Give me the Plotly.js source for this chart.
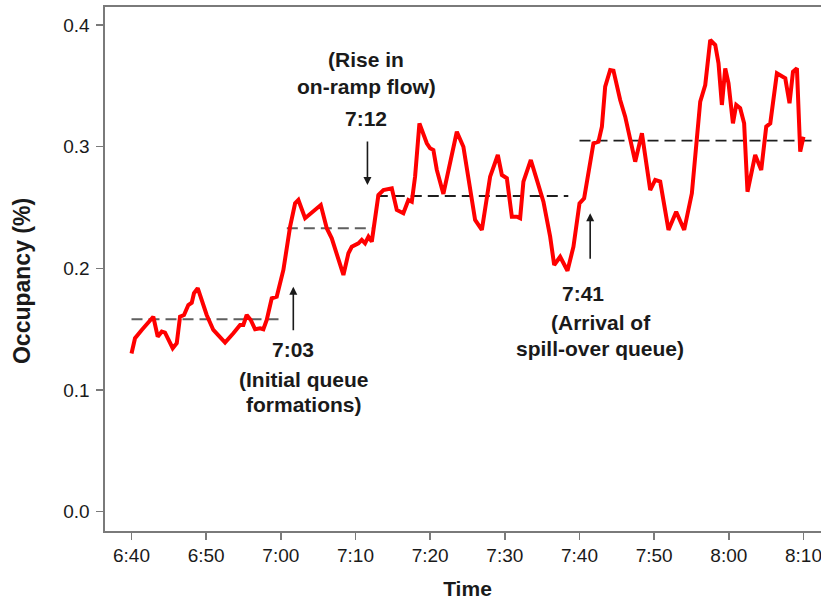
<!DOCTYPE html>
<html>
<head>
<meta charset="utf-8">
<script src="https://cdn.plot.ly/plotly-3.0.1.min.js"></script>
<style>html,body{margin:0;padding:0;overflow:hidden;background:#fff;}</style>
</head>
<body>
<div id="chart"></div>
<script>
// minutes after 6:40
const minutes = [0,0.47,1.37,2.25,2.92,3.51,4.05,4.49,5.52,6.06,6.50,7.03,7.61,8.07,8.37,8.87,9.41,10.07,10.96,11.63,12.53,13.64,14.54,14.98,15.43,15.97,16.55,17.22,17.66,18.11,18.78,19.45,20.34,21.24,21.91,22.35,23.25,25.35,26.15,26.82,28.38,29.05,29.50,30.39,30.84,31.28,31.73,32.18,32.62,33.07,33.74,34.86,35.53,36.41,37.08,37.54,37.98,38.56,39.55,39.99,40.43,40.89,41.77,42.67,43.57,44.45,44.91,46.02,46.92,48.03,49.06,49.60,50.27,50.94,51.61,52.05,52.49,53.48,54.29,55.17,56.07,56.61,57.41,58.39,59.19,60.00,60.62,61.20,61.87,62.54,63.00,63.44,64.11,64.55,65.45,66.12,67.46,68.36,69.47,70.14,70.81,71.92,72.95,74.02,75.05,76.17,76.84,77.51,78.18,78.62,79.07,79.52,79.96,80.55,80.99,81.52,82.05,82.50,83.53,84.34,85.01,85.55,86.44,87.56,88.13,88.59,89.12,89.56,90.00];
const occupancy = [0.130,0.1425,0.1493,0.1561,0.1602,0.1438,0.1479,0.1471,0.1343,0.1384,0.1602,0.1616,0.1698,0.1717,0.1795,0.1836,0.1726,0.1616,0.1493,0.1452,0.1389,0.1466,0.1534,0.1534,0.1616,0.1575,0.1499,0.1507,0.1499,0.1575,0.1753,0.1767,0.1986,0.2342,0.2534,0.2561,0.2411,0.2520,0.2329,0.2246,0.1945,0.2123,0.2177,0.2205,0.2233,0.2205,0.2260,0.2219,0.2424,0.2602,0.2643,0.2657,0.2479,0.2452,0.2561,0.2547,0.2753,0.3191,0.3027,0.2986,0.2972,0.2808,0.2611,0.2873,0.3122,0.2999,0.2808,0.2397,0.2315,0.2753,0.2931,0.2767,0.2740,0.2424,0.2424,0.2411,0.2712,0.2890,0.2726,0.2547,0.2260,0.2027,0.2095,0.1980,0.2177,0.2534,0.2575,0.2808,0.3027,0.3040,0.3164,0.3492,0.3629,0.3624,0.3383,0.3246,0.2876,0.3109,0.2643,0.2726,0.2712,0.2315,0.2465,0.2315,0.2616,0.3369,0.3506,0.3876,0.3835,0.3684,0.3342,0.3643,0.3520,0.3191,0.3342,0.3315,0.3191,0.2629,0.2931,0.2808,0.3164,0.3191,0.3602,0.3561,0.3356,0.3615,0.3643,0.2958,0.3081];

// regime mean levels: [start, end, level]
const segStart = [0, 20.8, 32.85, 60.0];
const segEnd = [20.1, 32.4, 58.5, 91.3];
const segLevel = [0.1581, 0.2329, 0.2594, 0.3049];
const segColor = ['#5f5f5f', '#5f5f5f', '#1e1e1e', '#1e1e1e'];

const tickVals = [0,10,20,30,40,50,60,70,80,90];
const tickText = ['6:40','6:50','7:00','7:10','7:20','7:30','7:40','7:50','8:00','8:10'];
const yTicks = [0.0,0.1,0.2,0.3,0.4];
const yTickText = ['0.0','0.1','0.2','0.3','0.4'];

// arrows: [x (min), head y, pixel offset of tail]
const arrowX = [21.67, 31.6, 61.43];
const arrowY = [0.1849, 0.2685, 0.2452];
const arrowAy = [45, -45, 47];

const noteText = ['(Rise in','on-ramp flow)','7:12','7:03','(Initial queue','formations)','7:41','(Arrival of','spill-over queue)'];
const noteX = [31.46,31.46,31.35,21.57,23.11,23.11,60.53,62.84,62.77];
const noteY = [0.3712,0.3490,0.3233,0.1329,0.1082,0.0877,0.1789,0.1551,0.1337];

const traces = [];
for (let i = 0; i < segLevel.length; i++) {
  traces.push({
    x: [segStart[i], segEnd[i]], y: [segLevel[i], segLevel[i]],
    mode: 'lines', type: 'scatter', hoverinfo: 'skip', showlegend: false,
    line: {color: segColor[i], width: 1.8, dash: '11px,6px'}
  });
}
traces.push({
  x: minutes, y: occupancy, mode: 'lines', type: 'scatter', showlegend: false,
  line: {color: '#ff0000', width: 4, shape: 'linear'}
});

const annotations = [];
for (let i = 0; i < arrowX.length; i++) {
  annotations.push({
    x: arrowX[i], y: arrowY[i], xref: 'x', yref: 'y', text: '',
    showarrow: true, arrowhead: 2, arrowsize: 1, arrowwidth: 1.6,
    arrowcolor: '#1a1a1a', ax: 0, ay: arrowAy[i], standoff: 0
  });
}
for (let i = 0; i < noteText.length; i++) {
  annotations.push({
    x: noteX[i], y: noteY[i], xref: 'x', yref: 'y', text: '<b>' + noteText[i] + '</b>',
    showarrow: false, xanchor: 'center', yanchor: 'middle',
    font: {family: 'Liberation Sans, Arial, sans-serif', size: 21, color: '#1a1a1a'}
  });
}
// y-axis title placed as rotated text
annotations.push({
  x: -0.1145, y: 0.477, xref: 'paper', yref: 'paper', text: '<b>Occupancy (%)</b>',
  textangle: -90, showarrow: false, xanchor: 'center', yanchor: 'middle',
  font: {family: 'Liberation Sans, Arial, sans-serif', size: 23, color: '#1a1a1a'}
});

const layout = {
  width: 832, height: 601,
  margin: {l: 105, r: 2, t: 7, b: 70},
  paper_bgcolor: '#ffffff', plot_bgcolor: '#ffffff',
  font: {family: 'Liberation Sans, Arial, sans-serif', color: '#1a1a1a'},
  xaxis: {
    range: [-3.55, 93.55], tickmode: 'array', tickvals: tickVals, ticktext: tickText,
    showgrid: false, zeroline: false, showline: true, mirror: true,
    linecolor: '#7a7a7a', linewidth: 1.6, ticks: 'outside', ticklen: 7, tickwidth: 1.4, tickcolor: '#7a7a7a',
    tickfont: {size: 19, color: '#1a1a1a'},
    title: {text: '<b>Time</b>', font: {size: 21, color: '#1a1a1a'}, standoff: 16}
  },
  yaxis: {
    range: [-0.0159, 0.4147], tickmode: 'array', tickvals: yTicks, ticktext: yTickText,
    showgrid: false, zeroline: false, showline: true, mirror: true,
    linecolor: '#7a7a7a', linewidth: 1.6, ticks: 'outside', ticklen: 7, tickwidth: 1.4, tickcolor: '#7a7a7a',
    tickfont: {size: 19, color: '#1a1a1a'}, ticklabelstandoff: 3
  },
  annotations: annotations
};

Plotly.newPlot('chart', traces, layout, {displayModeBar: false, staticPlot: true});
</script>
</body>
</html>
